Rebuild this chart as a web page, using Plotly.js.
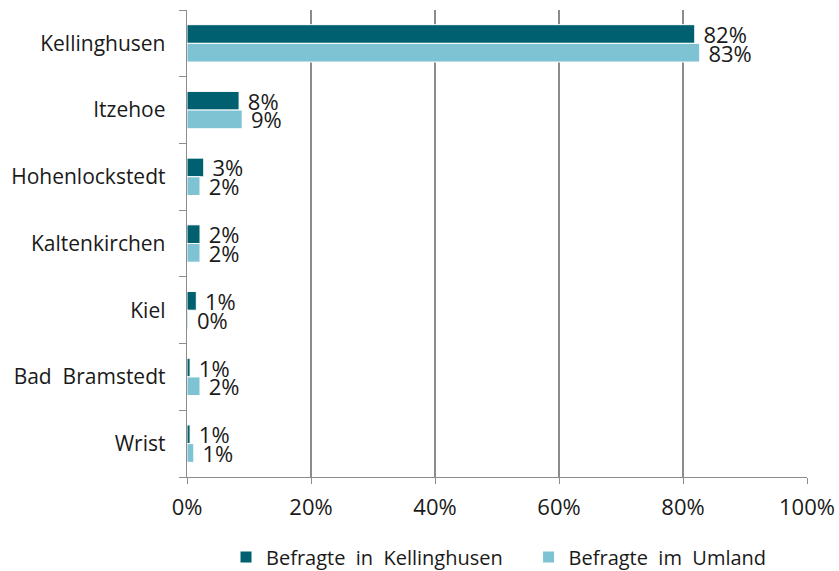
<!DOCTYPE html>
<html><head><meta charset="utf-8">
<script src="https://cdn.plot.ly/plotly-3.0.1.min.js"></script>
<style>html,body{margin:0;padding:0;background:#fff}#c{width:839px;height:571px}</style>
</head><body><div id="c"></div>
<script>
var categories = ["Kellinghusen","Itzehoe","Hohenlockstedt","Kaltenkirchen","Kiel","Bad Bramstedt","Wrist"];
var tickLabels = ["Kellinghusen","Itzehoe","Hohenlockstedt","Kaltenkirchen","Kiel","Bad\u00a0 Bramstedt","Wrist"];
var seriesNames = ["Befragte\u00a0 in\u00a0 Kellinghusen\u00a0\u00a0\u00a0\u00a0","Befragte\u00a0 im\u00a0 Umland"];
var kellValues = [81.9, 8.4, 2.7, 2.1, 1.5, 0.5, 0.5];
var kellLabels = ["82%","8%","3%","2%","1%","1%","1%"];
var umlandValues = [82.7, 8.9, 2.1, 2.1, 0.2, 2.1, 1.1];
var umlandLabels = ["83%","9%","2%","2%","0%","2%","1%"];

var FONT = "Open Sans, DejaVu Sans, sans-serif";
function pad(arr){return arr.map(function(s){return "\u00a0"+s;});}

var traces = [
 {type:"bar", orientation:"h", name:seriesNames[0], y:categories, x:kellValues,
  text:pad(kellLabels), textposition:"outside", cliponaxis:false, constraintext:"none",
  textfont:{family:FONT,size:22,color:"#1a1a1a"},
  marker:{color:"#00606F", line:{color:"#ffffff",width:1}}, hoverinfo:"x+y"},
 {type:"bar", orientation:"h", name:seriesNames[1], y:categories, x:umlandValues,
  text:pad(umlandLabels), textposition:"outside", cliponaxis:false, constraintext:"none",
  textfont:{family:FONT,size:22,color:"#1a1a1a"},
  marker:{color:"#7DC3D3", line:{color:"#ffffff",width:1}}, hoverinfo:"x+y"}
];

var layout = {
 width:839, height:571,
 margin:{l:187, r:32, t:10, b:94, autoexpand:false},
 paper_bgcolor:"#fff", plot_bgcolor:"#fff",
 font:{family:FONT, size:20, color:"#1a1a1a"},
 barmode:"group", bargap:0.44, bargroupgap:0,
 showlegend:true,
 legend:{orientation:"h", x:499/839, xanchor:"center", xref:"container", yref:"container", y:0.0245, yanchor:"middle",
   font:{family:FONT,size:20,color:"#1a1a1a"}, itemwidth:30, traceorder:"normal"},
 xaxis:{range:[0,100], dtick:20, ticksuffix:"%", showgrid:true, gridcolor:"#8c8c8c", gridwidth:1.3,
   zeroline:false, showline:true, linecolor:"#8c8c8c", linewidth:1.3,
   ticks:"outside", ticklen:6, tickcolor:"#8c8c8c", ticklabelstandoff:4,
   tickfont:{family:FONT,size:22,color:"#1a1a1a"}},
 yaxis:{type:"category", autorange:"reversed", tickmode:"array", tickvals:categories, ticktext:tickLabels,
   showline:true, linecolor:"#8c8c8c", linewidth:1.3, showgrid:false, zeroline:false,
   ticks:"outside", tickson:"boundaries", ticklen:7, tickcolor:"#8c8c8c", ticklabelstandoff:16,
   tickfont:{family:FONT,size:21,color:"#1a1a1a"}}
};
Plotly.newPlot("c", traces, layout, {displayModeBar:false, staticPlot:true});
</script></body></html>
